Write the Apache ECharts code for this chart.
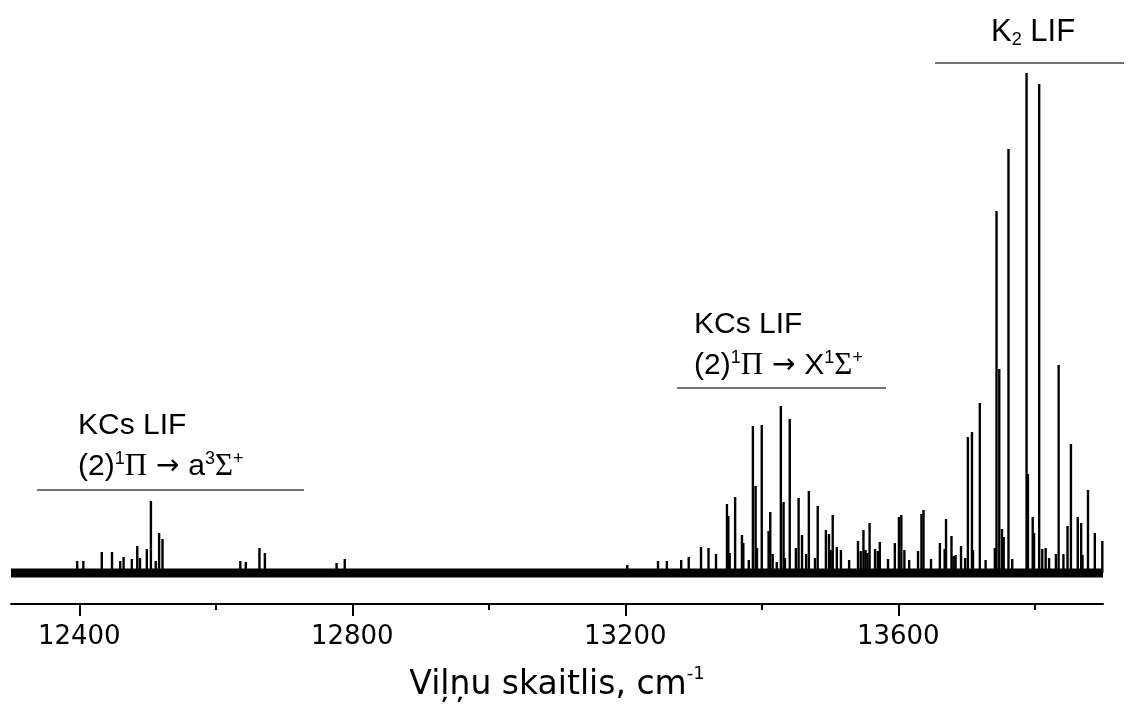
<!DOCTYPE html>
<html>
<head>
<meta charset="utf-8">
<script src="https://cdn.jsdelivr.net/npm/echarts@6/dist/echarts.min.js"></script>
<style>html,body{margin:0;padding:0;background:#fff}#c{width:1137px;height:708px}</style>
</head>
<body>
<div id="c"></div>
<script>
// x-axis range and ticks (wavenumber, cm^-1)
const xMin = 12300, xMax = 13900;
const majorTicks = [12400, 12800, 13200, 13600];
const minorTicks = [12600, 13000, 13400, 13800];
const axisTitle = 'Viļņu skaitlis, cm';

// baseline (noise band) of the spectrum, intensity 0
const baseline = [[12300, 0], [13900, 0]];

// KCs LIF (2)1Π → a3Σ+ lines: [wavenumber, intensity (a.u.)]
const kcsA = [
  [12397, 12], [12406, 12], [12433, 21], [12448, 21], [12460, 12], [12465, 16],
  [12477, 14], [12485, 27], [12489, 15], [12499, 24], [12505, 72], [12512, 12],
  [12517, 40], [12522, 34], [12636, 12], [12644, 11], [12664, 25], [12672, 20],
  [12777, 10], [12789, 14]
];

// KCs LIF (2)1Π → X1Σ+ lines
const kcsX = [
  [13203, 8], [13248, 12], [13261, 12], [13282, 13], [13293, 16], [13311, 26],
  [13322, 25], [13333, 19], [13349, 69], [13351, 57], [13353, 20], [13361, 76],
  [13371, 38], [13373, 30], [13381, 13], [13387, 147], [13391, 87], [13393, 25],
  [13400, 148], [13410, 42], [13412.5, 61], [13416, 19], [13422, 11], [13428, 167],
  [13432, 71], [13434, 15], [13441, 154], [13450, 25], [13454, 75], [13459, 38],
  [13465, 19], [13469, 82], [13478, 15], [13482, 67], [13494, 43], [13498.5, 39],
  [13501, 23], [13504, 58], [13510, 26], [13516, 23], [13528, 13], [13541, 32],
  [13545, 22], [13549, 43], [13552, 23], [13555, 20], [13558, 50], [13566, 24],
  [13570, 22], [13573, 31], [13585, 14], [13595, 30], [13601, 56], [13604.5, 58],
  [13609, 23], [13616, 13], [13629, 22], [13634, 59], [13637, 63]
];

// K2 LIF lines
const k2 = [
  [13648, 14], [13661, 30], [13668, 24], [13670, 54], [13678, 37], [13681, 17],
  [13684, 18], [13692, 27], [13698, 15], [13702, 136], [13708, 141], [13709.5, 23],
  [13719.5, 170], [13728, 13], [13741.5, 25], [13744, 362], [13748, 204], [13752, 44],
  [13754.5, 36], [13761.5, 424], [13767, 14], [13788, 500], [13790, 99], [13797, 56],
  [13799, 40], [13806.5, 489], [13811, 24], [13816, 25], [13821, 15], [13831, 19],
  [13835, 208], [13842, 19], [13848, 47], [13853, 129], [13863, 56], [13868, 50],
  [13870, 18], [13878, 83], [13888, 40], [13899, 32]
];

const chart = echarts.init(document.getElementById('c'), null, {renderer: 'canvas'});

const sans = 'Liberation Sans, Arial, sans-serif';
const serif = 'Liberation Serif, Times New Roman, serif';
const richAnn = {
  t: {fontFamily: sans, fontSize: 30, lineHeight: 34, color: '#000'},
  k: {fontFamily: sans, fontSize: 31, lineHeight: 34, color: '#000'},
  g: {fontFamily: serif, fontSize: 31, lineHeight: 34, color: '#000'},
  ar: {fontFamily: 'DejaVu Sans', fontSize: 28, lineHeight: 34, color: '#000'},
  sp: {fontFamily: sans, fontSize: 18, lineHeight: 16, verticalAlign: 'top', color: '#000'},
  sb: {fontFamily: sans, fontSize: 18, lineHeight: 16, verticalAlign: 'bottom', color: '#000'}
};
function txt(x, y, s) {
  return {type: 'text', x: x, y: y, silent: true,
    style: {text: s, rich: richAnn, verticalAlign: 'top', align: 'left'}};
}
function hline(x1, x2, y) {
  return {type: 'line', silent: true, shape: {x1: x1, y1: y, x2: x2, y2: y},
    style: {stroke: '#444', lineWidth: 1.3}};
}

chart.setOption({
  animation: false,
  backgroundColor: '#fff',
  grid: {left: 11, right: 34, top: 60, bottom: 104, containLabel: false},
  xAxis: [{
    type: 'value', min: xMin, max: xMax, position: 'bottom',
    axisLine: {show: true, onZero: false, lineStyle: {color: '#000', width: 2}},
    axisTick: {show: true, inside: false, length: 12, customValues: majorTicks,
      lineStyle: {color: '#000', width: 2}},
    axisLabel: {show: true, customValues: majorTicks, margin: 20,
      formatter: function (v) { return String(v); },
      fontFamily: 'DejaVu Sans', fontSize: 26, color: '#000'},
    splitLine: {show: false},
    name: '{a|' + axisTitle + '}{s|-1}',
    nameLocation: 'middle', nameGap: 61,
    nameTextStyle: {
      rich: {
        a: {fontFamily: 'DejaVu Sans', fontSize: 33, lineHeight: 40, color: '#000'},
        s: {fontFamily: 'DejaVu Sans', fontSize: 18, lineHeight: 18, verticalAlign: 'top', color: '#000'}
      }
    }
  }, {
    type: 'value', min: xMin, max: xMax, position: 'bottom',
    axisLine: {show: false, onZero: false},
    axisTick: {show: true, inside: false, length: 6, customValues: minorTicks,
      lineStyle: {color: '#000', width: 2}},
    axisLabel: {show: false},
    splitLine: {show: false}
  }],
  yAxis: {
    type: 'value', min: -31, max: 513, show: false,
    splitLine: {show: false}
  },
  series: [{
    type: 'line', data: baseline, xAxisIndex: 0, symbol: 'none', silent: true,
    lineStyle: {color: '#000', width: 9}
  }, {
    type: 'bar', data: kcsA.concat(kcsX, k2), xAxisIndex: 0, barWidth: 2.4,
    itemStyle: {color: '#000'}, silent: true
  }],
  graphic: [
    hline(37, 304, 490),
    txt(78, 409, '{t|KCs LIF}'),
    txt(78, 450, '{t|(2)}{sp|1}{g|Π}{ar| → }{t|a}{sp|3}{g|Σ}{sp|+}'),
    hline(677, 886, 388),
    txt(694, 308, '{t|KCs LIF}'),
    txt(694, 349, '{t|(2)}{sp|1}{g|Π}{ar| → }{t|X}{sp|1}{g|Σ}{sp|+}'),
    hline(935, 1124, 63),
    txt(991, 15, '{k|K}{sb|2}{k| LIF}')
  ]
});
</script>
</body>
</html>
